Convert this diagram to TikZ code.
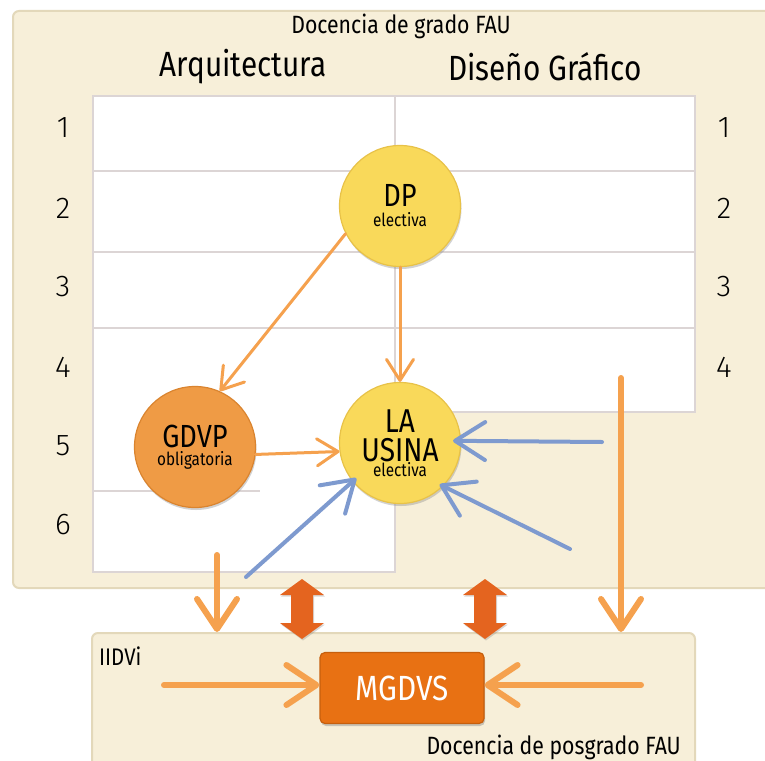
\documentclass[tikz,border=0pt]{standalone}
\usepackage{fontspec}
\setmainfont{Fira Sans}[FakeStretch=0.85]
\newfontfamily\numfont{Fira Sans Light}
\usetikzlibrary{arrows.meta,shadows,calc}
\definecolor{beige}{HTML}{F7EFD9}
\definecolor{beigeline}{HTML}{E3D8BA}
\definecolor{gridgray}{HTML}{DCD5D5}
\definecolor{yel}{HTML}{F9D95A}
\definecolor{yelline}{HTML}{E8C248}
\definecolor{orc}{HTML}{EF9B45}
\definecolor{orcline}{HTML}{DA842F}
\definecolor{oarr}{HTML}{F5A14E}
\definecolor{blu}{HTML}{7E9ACF}
\definecolor{redor}{HTML}{E4641F}
\definecolor{mgd}{HTML}{E87113}
\definecolor{mgdline}{HTML}{C65F0D}
\newcommand{\smalltxt}[1]{{\fontsize{18}{18}\selectfont #1}}
\begin{document}
\begin{tikzpicture}[x=1pt,y=-1pt,
  beigebox/.style={fill=beige, draw=beigeline, line width=2pt, rounded corners=6pt, inner sep=0pt},
  gridline/.style={draw=gridgray, line width=2.2pt},
  bubble/.style={circle, minimum size=121pt, inner sep=0pt, line width=1.2pt, align=center,
     drop shadow={shadow xshift=1pt, shadow yshift=-2.5pt, opacity=0.35}},
  num/.style={font=\numfont\fontsize{30}{30}\selectfont, inner sep=0pt},
  oarrow/.style={draw=oarr, line width=3pt, line cap=round, -{Straight Barb[length=21pt, width=27pt, round]}},
  oarrowB/.style={draw=oarr, line width=6pt, line cap=round, -{Straight Barb[length=30pt, width=40pt, round]}},
  barrow/.style={draw=blu, line width=4pt, line cap=round, -{Straight Barb[length=30pt, width=38pt, round]}},
  dblarrow/.style={fill=redor, draw=none, drop shadow={shadow xshift=1pt, shadow yshift=-1.5pt, opacity=0.3}}
]
\useasboundingbox (0,0) rectangle (765,760);
\fill[white] (0,0) rectangle (765,760);
% outer boxes
\node[beigebox, minimum width=770pt, minimum height=577pt, anchor=north west] (grado) at (12,10) {};
\node[beigebox, minimum width=603pt, minimum height=150pt, anchor=north west] (post) at (91,632) {};
% titles
\node[font=\fontsize{25}{25}\selectfont] (tgrado) at (401,26) {Docencia de grado FAU};
\node[font=\fontsize{35}{35}\selectfont] (tarq) at (243,67) {Arquitectura};
\node[font=\fontsize{35}{35}\selectfont] (tdis) at (545,67) {Diseño Gráfico};
% grid
\fill[white] (93,96) -- (695,96) -- (695,412) -- (395,412) -- (395,572) -- (93,572) -- cycle;
\draw[gridline] (93,171) -- (695,171);
\draw[gridline] (93,252) -- (695,252);
\draw[gridline] (93,328) -- (695,328);
\draw[gridline] (93,491) -- (260,491);
\draw[gridline] (395,96) -- (395,412);
\draw[gridline] (93,96) -- (695,96) -- (695,412) -- (395,412) -- (395,572) -- (93,572) -- cycle;
% row numbers
\node[num] (l1) at (63,128) {1};
\node[num] (l2) at (63,208) {2};
\node[num] (l3) at (63,287) {3};
\node[num] (l4) at (63,367) {4};
\node[num] (l5) at (63,446) {5};
\node[num] (l6) at (63,525) {6};
\node[num] (r1) at (724,128) {1};
\node[num] (r2) at (724,208) {2};
\node[num] (r3) at (724,287) {3};
\node[num] (r4) at (724,367) {4};
% bubbles
\node[bubble, fill=yel, draw=yelline, font=\fontsize{32}{36}\selectfont] (dp) at (400,206)
  {DP\\[-16pt]\smalltxt{electiva}};
\node[bubble, fill=orc, draw=orcline, font=\fontsize{32}{36}\selectfont] (gdvp) at (195,447)
  {GDVP\\[-18pt]\smalltxt{obligatoria}};
\node[bubble, fill=yel, draw=yelline, font=\fontsize{33}{29}\selectfont] (usina) at (400,443)
  {LA\\USINA\\[-14pt]\smalltxt{electiva}};
% orange arrows top
\draw[oarrow] (dp.207) -- (gdvp.66);
\draw[oarrow] (dp.south) -- (usina.north);
\draw[oarrow] (gdvp.-7) -- (usina.188);
% blue arrows
\coordinate (b1) at (602,442);
\coordinate (b2) at (570,549);
\coordinate (b3) at (246,577);
\draw[barrow, shorten >=-8pt] (b1) -- (usina.2);
\draw[barrow, shorten >=-4pt] (b2) -- (usina.-45);
\draw[barrow, shorten >=-5pt] (b3) -- (usina.219);
% MGDVS
\node[fill=mgd, draw=mgdline, line width=1.2pt, rounded corners=5pt, minimum width=164pt, minimum height=71pt,
  text=white, font=\fontsize{35}{35}\selectfont,
  drop shadow={shadow xshift=1pt, shadow yshift=-2.5pt, opacity=0.4}] (mg) at (402,688) {MGDVS};
\node[font=\fontsize{24}{24}\selectfont, anchor=west, inner sep=0pt] (iidvi) at (99,656) {IIDVi};
\node[font=\fontsize{25}{25}\selectfont, anchor=east, inner sep=0pt] (tpos) at (681,747) {Docencia de posgrado FAU};
% bottom orange arrows
\coordinate (s1) at (217,555);
\coordinate (s2) at (621,378);
\coordinate (s3) at (164,685);
\coordinate (s4) at (641,685);
\draw[oarrowB] (s1) -- (s1 |- post.north);
\draw[oarrowB] (s2) -- (s2 |- post.north);
\draw[oarrowB] (s3) -- (s3 -| mg.west);
\draw[oarrowB] (s4) -- (s4 -| mg.east);
% double arrows
\coordinate (d1) at (302,609);
\coordinate (d2) at (485,609);
\foreach \d in {d1,d2}{
  \path[dblarrow] ($(\d)+(0,-30)$) -- ++(22,16) -- ++(-11,0) -- ++(0,28) -- ++(11,0) -- ++(-22,16)
     -- ++(-22,-16) -- ++(11,0) -- ++(0,-28) -- ++(-11,0) -- cycle;
}
\end{tikzpicture}
\end{document}
